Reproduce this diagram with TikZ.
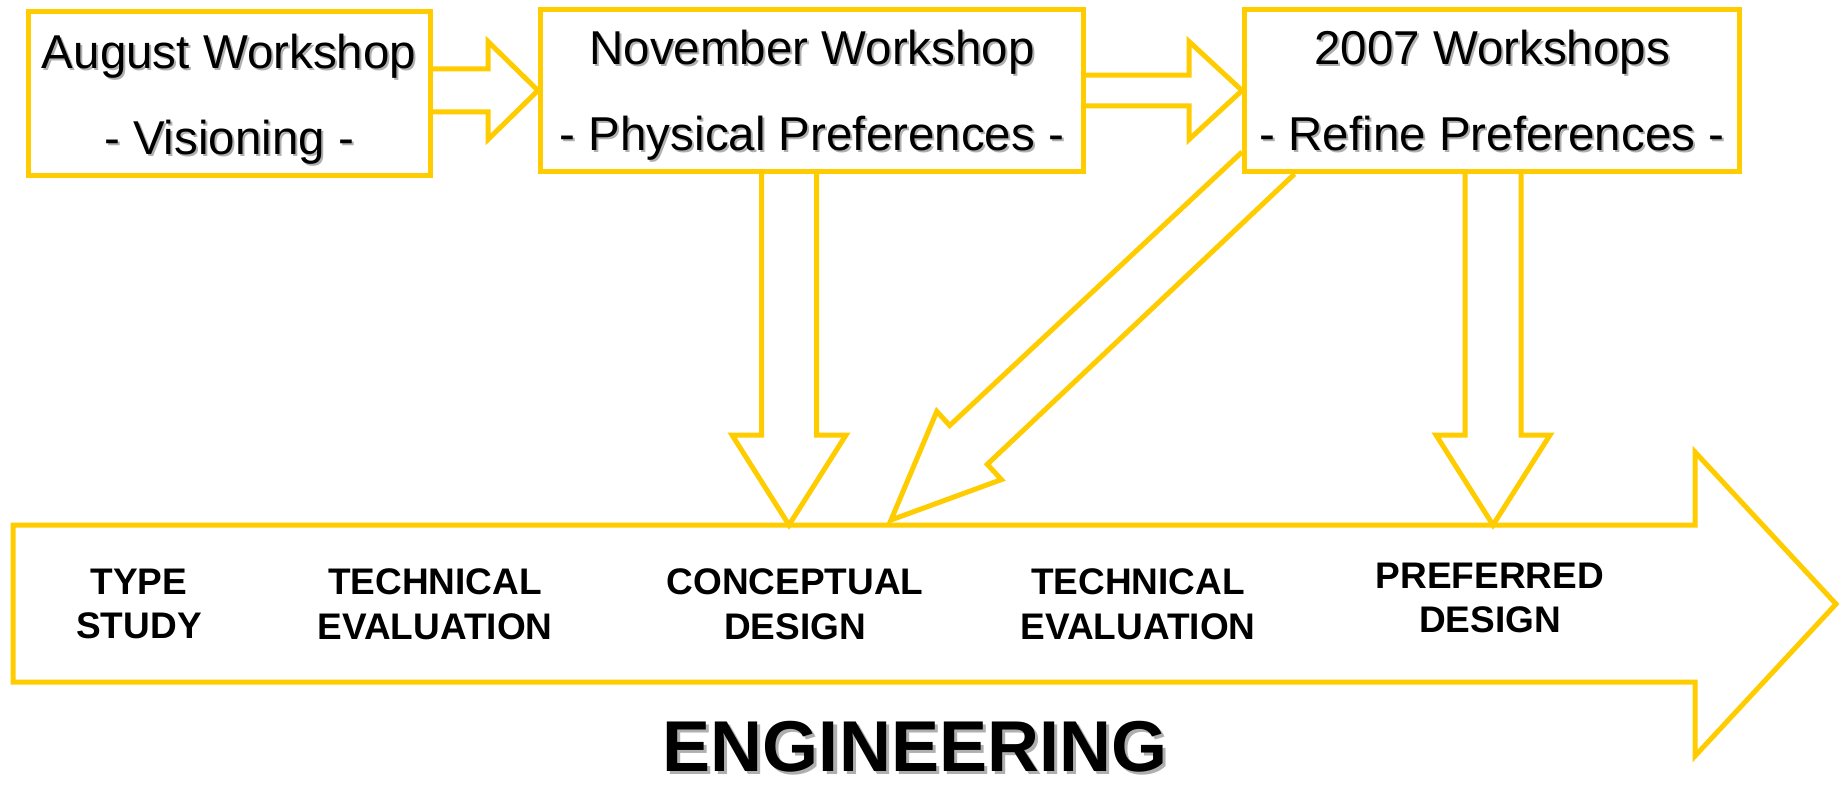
\documentclass[tikz,border=0pt]{standalone}
\usepackage{fontspec}
\usepackage{graphicx}
\setmainfont{Liberation Sans}
\usetikzlibrary{calc}
\definecolor{gold}{RGB}{255,204,0}
\definecolor{shgray}{RGB}{175,175,175}
\newcommand{\shd}[2][2pt]{\leavevmode\rlap{\hspace{#1}\raisebox{-#1}{\textcolor{shgray}{#2}}}#2}
\pgfdeclarelayer{background}
\pgfsetlayers{background,main}
\tikzset{
  wsbox/.style={draw=gold, line width=5pt, fill=white, inner sep=0pt, align=center,
    text depth=0pt, font=\fontsize{47.5}{86}\selectfont},
  barrow/.style={draw=gold, line width=5pt, fill=white, line join=miter, miter limit=10},
  stage/.style={align=center, font=\bfseries\fontsize{37}{44.7}\selectfont, inner sep=0pt},
}
\begin{document}
\begin{tikzpicture}[x=1pt,y=-1pt]
\useasboundingbox (0,0) rectangle (1843,786);
% workshop boxes
\node[wsbox, minimum width=402pt, minimum height=164pt] (aug) at (229,94) {\shd{August Workshop}\\\shd{- Visioning -}};
\node[wsbox, minimum width=543pt, minimum height=162pt] (nov) at (812,90.5) {\shd{November Workshop}\\\shd{- Physical Preferences -}};
\node[wsbox, minimum width=495pt, minimum height=162pt] (w07) at (1492,90.5) {\shd{2007 Workshops}\\\shd{- Refine Preferences -}};
% arrow tips on the engineering arrow
\coordinate (t1) at (789,525);
\coordinate (t2) at (1493,525);
\coordinate (t3) at (891,520);
\begin{pgfonlayer}{background}
% big engineering arrow
\draw[barrow] (13,525) -- (1695,525) -- (1695,452) -- (1836,604) -- (1695,756) -- (1695,682) -- (13,682) -- cycle;
% August -> November
\draw[barrow] ($(aug.east|-nov.west)+(0,-21.5)$) -- ($(nov.west)+(-50,-21.5)$) -- ($(nov.west)+(-50,-49)$)
  -- (nov.west) -- ($(nov.west)+(-50,49)$) -- ($(nov.west)+(-50,21.5)$) -- ($(aug.east|-nov.west)+(0,21.5)$);
% November -> 2007
\draw[barrow] ($(nov.east|-w07.west)+(0,-15.3)$) -- ($(w07.west)+(-53,-15.3)$) -- ($(w07.west)+(-53,-49)$)
  -- (w07.west) -- ($(w07.west)+(-53,49)$) -- ($(w07.west)+(-53,15.3)$) -- ($(nov.east|-w07.west)+(0,15.3)$);
% November -> conceptual design
\draw[barrow] ($(t1|-nov.south)+(-27.5,0)$) -- ($(t1)+(-27.5,-90)$) -- ($(t1)+(-57,-90)$) -- (t1)
  -- ($(t1)+(57,-90)$) -- ($(t1)+(27.5,-90)$) -- ($(t1|-nov.south)+(27.5,0)$);
% 2007 -> preferred design
\draw[barrow] ($(t2|-w07.south)+(-28,0)$) -- ($(t2)+(-28,-90)$) -- ($(t2)+(-57,-90)$) -- (t2)
  -- ($(t2)+(57,-90)$) -- ($(t2)+(28,-90)$) -- ($(t2|-w07.south)+(28,0)$);
% 2007 -> back to conceptual design (diagonal)
\draw[barrow] ($(w07.west)+(0,61.5)$) -- ($(t3)+(58.7,-94.5)$) -- ($(t3)+(45.8,-108.6)$) -- (t3)
  -- ($(t3)+(110.4,-40.4)$) -- ($(t3)+(96.3,-55.7)$) -- ($(w07.south west)+(52.5,0)$);
\end{pgfonlayer}
% stage labels
\node[stage] (typ) at (139,604) {TYPE\\STUDY};
\node[stage] (te1) at (435,604) {TECHNICAL\\EVALUATION};
\node[stage] (cd) at (795,604) {CONCEPTUAL\\DESIGN};
\node[stage] (te2) at (1138,604) {TECHNICAL\\EVALUATION};
\node[stage] (pd) at (1490,598) {PREFERRED\\DESIGN};
\node[font=\bfseries\fontsize{72}{80}\selectfont, inner sep=0pt] (eng) at (915,748) {\shd[3pt]{ENGINEERING}};
\end{tikzpicture}
\end{document}
